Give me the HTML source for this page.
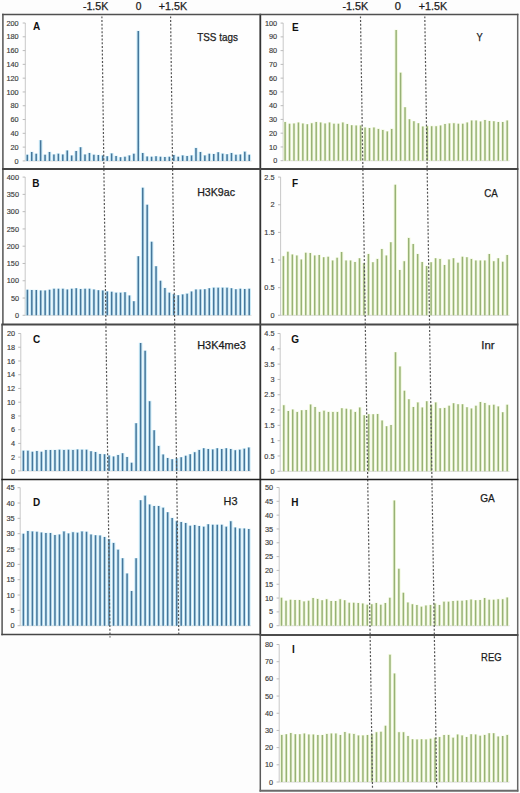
<!DOCTYPE html><html><head><meta charset="utf-8"><style>html,body{margin:0;padding:0;background:#fdfdfd;}svg{display:block;}text{font-family:"Liberation Sans", sans-serif;}</style></head><body>
<svg width="520" height="793" viewBox="0 0 520 793">
<rect x="0" y="0" width="520" height="793" fill="#fdfdfd"/>
<rect x="3" y="15" width="257" height="619" fill="#fefefe"/>
<rect x="260" y="15" width="257" height="775" fill="#fefefe"/>
<line x1="25.30" y1="23.00" x2="25.30" y2="160.90" stroke="#c2c2c2" stroke-width="0.9"/>
<line x1="25.30" y1="160.90" x2="251.47" y2="160.90" stroke="#d0d0d0" stroke-width="0.9"/>
<line x1="22.70" y1="160.90" x2="25.30" y2="160.90" stroke="#b4b4b4" stroke-width="0.9"/>
<text x="18.60" y="163.50" font-size="7.3" fill="#3c3c3c" stroke="#3c3c3c" stroke-width="0.15" text-anchor="end">0</text>
<line x1="22.70" y1="147.11" x2="25.30" y2="147.11" stroke="#b4b4b4" stroke-width="0.9"/>
<text x="18.60" y="149.71" font-size="7.3" fill="#3c3c3c" stroke="#3c3c3c" stroke-width="0.15" text-anchor="end">20</text>
<line x1="22.70" y1="133.32" x2="25.30" y2="133.32" stroke="#b4b4b4" stroke-width="0.9"/>
<text x="18.60" y="135.92" font-size="7.3" fill="#3c3c3c" stroke="#3c3c3c" stroke-width="0.15" text-anchor="end">40</text>
<line x1="22.70" y1="119.53" x2="25.30" y2="119.53" stroke="#b4b4b4" stroke-width="0.9"/>
<text x="18.60" y="122.13" font-size="7.3" fill="#3c3c3c" stroke="#3c3c3c" stroke-width="0.15" text-anchor="end">60</text>
<line x1="22.70" y1="105.74" x2="25.30" y2="105.74" stroke="#b4b4b4" stroke-width="0.9"/>
<text x="18.60" y="108.34" font-size="7.3" fill="#3c3c3c" stroke="#3c3c3c" stroke-width="0.15" text-anchor="end">80</text>
<line x1="22.70" y1="91.95" x2="25.30" y2="91.95" stroke="#b4b4b4" stroke-width="0.9"/>
<text x="18.60" y="94.55" font-size="7.3" fill="#3c3c3c" stroke="#3c3c3c" stroke-width="0.15" text-anchor="end">100</text>
<line x1="22.70" y1="78.16" x2="25.30" y2="78.16" stroke="#b4b4b4" stroke-width="0.9"/>
<text x="18.60" y="80.76" font-size="7.3" fill="#3c3c3c" stroke="#3c3c3c" stroke-width="0.15" text-anchor="end">120</text>
<line x1="22.70" y1="64.37" x2="25.30" y2="64.37" stroke="#b4b4b4" stroke-width="0.9"/>
<text x="18.60" y="66.97" font-size="7.3" fill="#3c3c3c" stroke="#3c3c3c" stroke-width="0.15" text-anchor="end">140</text>
<line x1="22.70" y1="50.58" x2="25.30" y2="50.58" stroke="#b4b4b4" stroke-width="0.9"/>
<text x="18.60" y="53.18" font-size="7.3" fill="#3c3c3c" stroke="#3c3c3c" stroke-width="0.15" text-anchor="end">160</text>
<line x1="22.70" y1="36.79" x2="25.30" y2="36.79" stroke="#b4b4b4" stroke-width="0.9"/>
<text x="18.60" y="39.39" font-size="7.3" fill="#3c3c3c" stroke="#3c3c3c" stroke-width="0.15" text-anchor="end">180</text>
<line x1="22.70" y1="23.00" x2="25.30" y2="23.00" stroke="#b4b4b4" stroke-width="0.9"/>
<text x="18.60" y="25.60" font-size="7.3" fill="#3c3c3c" stroke="#3c3c3c" stroke-width="0.15" text-anchor="end">200</text>
<path d="M25.50 154.46h3.60v6.44h-3.60zM29.94 151.64h3.60v9.26h-3.60zM34.38 153.57h3.60v7.33h-3.60zM38.82 140.05h3.60v20.85h-3.60zM43.26 154.46h3.60v6.44h-3.60zM47.70 151.64h3.60v9.26h-3.60zM52.13 154.26h3.60v6.64h-3.60zM56.57 153.36h3.60v7.54h-3.60zM61.01 154.26h3.60v6.64h-3.60zM65.45 150.26h3.60v10.64h-3.60zM69.89 155.29h3.60v5.61h-3.60zM74.33 150.81h3.60v10.09h-3.60zM78.77 147.02h3.60v13.88h-3.60zM83.21 154.26h3.60v6.64h-3.60zM87.65 152.74h3.60v8.16h-3.60zM92.09 154.46h3.60v6.44h-3.60zM96.52 154.81h3.60v6.09h-3.60zM100.96 155.29h3.60v5.61h-3.60zM105.40 155.98h3.60v4.92h-3.60zM109.84 153.08h3.60v7.82h-3.60zM114.28 155.64h3.60v5.26h-3.60zM118.72 157.01h3.60v3.89h-3.60zM123.16 156.53h3.60v4.37h-3.60zM127.60 155.08h3.60v5.82h-3.60zM132.04 153.57h3.60v7.33h-3.60zM136.47 30.63h3.60v130.27h-3.60zM140.91 152.74h3.60v8.16h-3.60zM145.35 156.19h3.60v4.71h-3.60zM149.79 156.53h3.60v4.37h-3.60zM154.23 155.98h3.60v4.92h-3.60zM158.67 156.46h3.60v4.44h-3.60zM163.11 156.81h3.60v4.09h-3.60zM167.55 156.46h3.60v4.44h-3.60zM171.99 154.81h3.60v6.09h-3.60zM176.43 156.46h3.60v4.44h-3.60zM180.87 155.08h3.60v5.82h-3.60zM185.30 155.64h3.60v5.26h-3.60zM189.74 155.08h3.60v5.82h-3.60zM194.18 147.78h3.60v13.12h-3.60zM198.62 151.64h3.60v9.26h-3.60zM203.06 155.08h3.60v5.82h-3.60zM207.50 153.57h3.60v7.33h-3.60zM211.94 153.70h3.60v7.19h-3.60zM216.38 151.98h3.60v8.92h-3.60zM220.82 153.36h3.60v7.54h-3.60zM225.25 153.91h3.60v6.99h-3.60zM229.69 152.74h3.60v8.16h-3.60zM234.13 154.46h3.60v6.44h-3.60zM238.57 154.26h3.60v6.64h-3.60zM243.01 151.36h3.60v9.54h-3.60zM247.45 154.46h3.60v6.44h-3.60z" fill="#c9eaf8"/>
<path d="M26.55 154.76h1.50v6.14h-1.50zM30.99 151.94h1.50v8.96h-1.50zM35.43 153.87h1.50v7.03h-1.50zM39.87 140.35h1.50v20.55h-1.50zM44.31 154.76h1.50v6.14h-1.50zM48.75 151.94h1.50v8.96h-1.50zM53.18 154.56h1.50v6.34h-1.50zM57.62 153.66h1.50v7.24h-1.50zM62.06 154.56h1.50v6.34h-1.50zM66.50 150.56h1.50v10.34h-1.50zM70.94 155.59h1.50v5.31h-1.50zM75.38 151.11h1.50v9.79h-1.50zM79.82 147.32h1.50v13.58h-1.50zM84.26 154.56h1.50v6.34h-1.50zM88.70 153.04h1.50v7.86h-1.50zM93.14 154.76h1.50v6.14h-1.50zM97.57 155.11h1.50v5.79h-1.50zM102.01 155.59h1.50v5.31h-1.50zM106.45 156.28h1.50v4.62h-1.50zM110.89 153.38h1.50v7.52h-1.50zM115.33 155.94h1.50v4.96h-1.50zM119.77 157.31h1.50v3.59h-1.50zM124.21 156.83h1.50v4.07h-1.50zM128.65 155.38h1.50v5.52h-1.50zM133.09 153.87h1.50v7.03h-1.50zM137.53 30.93h1.50v129.97h-1.50zM141.96 153.04h1.50v7.86h-1.50zM146.40 156.49h1.50v4.41h-1.50zM150.84 156.83h1.50v4.07h-1.50zM155.28 156.28h1.50v4.62h-1.50zM159.72 156.76h1.50v4.14h-1.50zM164.16 157.11h1.50v3.79h-1.50zM168.60 156.76h1.50v4.14h-1.50zM173.04 155.11h1.50v5.79h-1.50zM177.48 156.76h1.50v4.14h-1.50zM181.92 155.38h1.50v5.52h-1.50zM186.35 155.94h1.50v4.96h-1.50zM190.79 155.38h1.50v5.52h-1.50zM195.23 148.08h1.50v12.82h-1.50zM199.67 151.94h1.50v8.96h-1.50zM204.11 155.38h1.50v5.52h-1.50zM208.55 153.87h1.50v7.03h-1.50zM212.99 154.00h1.50v6.89h-1.50zM217.43 152.28h1.50v8.62h-1.50zM221.87 153.66h1.50v7.24h-1.50zM226.31 154.21h1.50v6.69h-1.50zM230.74 153.04h1.50v7.86h-1.50zM235.18 154.76h1.50v6.14h-1.50zM239.62 154.56h1.50v6.34h-1.50zM244.06 151.66h1.50v9.24h-1.50zM248.50 154.76h1.50v6.14h-1.50z" fill="#46769a"/>
<text x="33.00" y="30.30" font-size="10" font-weight="bold" fill="#111">A</text>
<text x="197.20" y="40.60" font-size="10.6" fill="#1c1c1c" stroke="#1c1c1c" stroke-width="0.25" textLength="40.70" lengthAdjust="spacingAndGlyphs">TSS tags</text>
<line x1="25.20" y1="177.10" x2="25.20" y2="315.30" stroke="#c2c2c2" stroke-width="0.9"/>
<line x1="25.20" y1="315.30" x2="251.42" y2="315.30" stroke="#d0d0d0" stroke-width="0.9"/>
<line x1="22.60" y1="315.30" x2="25.20" y2="315.30" stroke="#b4b4b4" stroke-width="0.9"/>
<text x="19.00" y="317.90" font-size="7.3" fill="#3c3c3c" stroke="#3c3c3c" stroke-width="0.15" text-anchor="end">0</text>
<line x1="22.60" y1="298.03" x2="25.20" y2="298.03" stroke="#b4b4b4" stroke-width="0.9"/>
<text x="19.00" y="300.63" font-size="7.3" fill="#3c3c3c" stroke="#3c3c3c" stroke-width="0.15" text-anchor="end">50</text>
<line x1="22.60" y1="280.75" x2="25.20" y2="280.75" stroke="#b4b4b4" stroke-width="0.9"/>
<text x="19.00" y="283.35" font-size="7.3" fill="#3c3c3c" stroke="#3c3c3c" stroke-width="0.15" text-anchor="end">100</text>
<line x1="22.60" y1="263.48" x2="25.20" y2="263.48" stroke="#b4b4b4" stroke-width="0.9"/>
<text x="19.00" y="266.08" font-size="7.3" fill="#3c3c3c" stroke="#3c3c3c" stroke-width="0.15" text-anchor="end">150</text>
<line x1="22.60" y1="246.20" x2="25.20" y2="246.20" stroke="#b4b4b4" stroke-width="0.9"/>
<text x="19.00" y="248.80" font-size="7.3" fill="#3c3c3c" stroke="#3c3c3c" stroke-width="0.15" text-anchor="end">200</text>
<line x1="22.60" y1="228.93" x2="25.20" y2="228.93" stroke="#b4b4b4" stroke-width="0.9"/>
<text x="19.00" y="231.53" font-size="7.3" fill="#3c3c3c" stroke="#3c3c3c" stroke-width="0.15" text-anchor="end">250</text>
<line x1="22.60" y1="211.65" x2="25.20" y2="211.65" stroke="#b4b4b4" stroke-width="0.9"/>
<text x="19.00" y="214.25" font-size="7.3" fill="#3c3c3c" stroke="#3c3c3c" stroke-width="0.15" text-anchor="end">300</text>
<line x1="22.60" y1="194.38" x2="25.20" y2="194.38" stroke="#b4b4b4" stroke-width="0.9"/>
<text x="19.00" y="196.97" font-size="7.3" fill="#3c3c3c" stroke="#3c3c3c" stroke-width="0.15" text-anchor="end">350</text>
<line x1="22.60" y1="177.10" x2="25.20" y2="177.10" stroke="#b4b4b4" stroke-width="0.9"/>
<text x="19.00" y="179.70" font-size="7.3" fill="#3c3c3c" stroke="#3c3c3c" stroke-width="0.15" text-anchor="end">400</text>
<path d="M25.60 289.50h3.60v25.80h-3.60zM30.04 289.64h3.60v25.66h-3.60zM34.47 289.78h3.60v25.52h-3.60zM38.91 290.26h3.60v25.04h-3.60zM43.34 290.26h3.60v25.04h-3.60zM47.78 289.50h3.60v25.80h-3.60zM52.22 288.40h3.60v26.90h-3.60zM56.65 288.40h3.60v26.90h-3.60zM61.09 288.40h3.60v26.90h-3.60zM65.52 289.19h3.60v26.11h-3.60zM69.96 288.40h3.60v26.90h-3.60zM74.40 287.95h3.60v27.35h-3.60zM78.83 288.74h3.60v26.56h-3.60zM83.27 288.40h3.60v26.90h-3.60zM87.70 288.40h3.60v26.90h-3.60zM92.14 289.19h3.60v26.11h-3.60zM96.58 289.95h3.60v25.35h-3.60zM101.01 290.30h3.60v25.00h-3.60zM105.45 291.16h3.60v24.14h-3.60zM109.88 291.51h3.60v23.79h-3.60zM114.32 292.37h3.60v22.93h-3.60zM118.76 292.37h3.60v22.93h-3.60zM123.19 291.96h3.60v23.34h-3.60zM127.63 295.31h3.60v19.99h-3.60zM132.06 301.01h3.60v14.29h-3.60zM136.50 255.92h3.60v59.38h-3.60zM140.94 187.51h3.60v127.79h-3.60zM145.37 204.44h3.60v110.86h-3.60zM149.81 241.41h3.60v73.89h-3.60zM154.24 265.94h3.60v49.36h-3.60zM158.68 280.45h3.60v34.85h-3.60zM163.12 287.71h3.60v27.59h-3.60zM167.55 292.37h3.60v22.93h-3.60zM171.99 293.92h3.60v21.38h-3.60zM176.42 294.96h3.60v20.34h-3.60zM180.86 294.10h3.60v21.20h-3.60zM185.30 293.34h3.60v21.96h-3.60zM189.73 291.16h3.60v24.14h-3.60zM194.17 289.19h3.60v26.11h-3.60zM198.60 289.19h3.60v26.11h-3.60zM203.04 288.88h3.60v26.42h-3.60zM207.48 287.95h3.60v27.35h-3.60zM211.91 287.36h3.60v27.94h-3.60zM216.35 287.36h3.60v27.94h-3.60zM220.78 287.36h3.60v27.94h-3.60zM225.22 287.36h3.60v27.94h-3.60zM229.66 287.95h3.60v27.35h-3.60zM234.09 288.88h3.60v26.42h-3.60zM238.53 288.40h3.60v26.90h-3.60zM242.96 288.74h3.60v26.56h-3.60zM247.40 288.40h3.60v26.90h-3.60z" fill="#c9eaf8"/>
<path d="M26.65 289.80h1.50v25.50h-1.50zM31.09 289.94h1.50v25.36h-1.50zM35.52 290.08h1.50v25.22h-1.50zM39.96 290.56h1.50v24.74h-1.50zM44.39 290.56h1.50v24.74h-1.50zM48.83 289.80h1.50v25.50h-1.50zM53.27 288.70h1.50v26.60h-1.50zM57.70 288.70h1.50v26.60h-1.50zM62.14 288.70h1.50v26.60h-1.50zM66.57 289.49h1.50v25.81h-1.50zM71.01 288.70h1.50v26.60h-1.50zM75.45 288.25h1.50v27.05h-1.50zM79.88 289.04h1.50v26.26h-1.50zM84.32 288.70h1.50v26.60h-1.50zM88.75 288.70h1.50v26.60h-1.50zM93.19 289.49h1.50v25.81h-1.50zM97.63 290.25h1.50v25.05h-1.50zM102.06 290.60h1.50v24.70h-1.50zM106.50 291.46h1.50v23.84h-1.50zM110.93 291.81h1.50v23.49h-1.50zM115.37 292.67h1.50v22.63h-1.50zM119.81 292.67h1.50v22.63h-1.50zM124.24 292.26h1.50v23.04h-1.50zM128.68 295.61h1.50v19.69h-1.50zM133.11 301.31h1.50v13.99h-1.50zM137.55 256.22h1.50v59.08h-1.50zM141.99 187.81h1.50v127.49h-1.50zM146.42 204.74h1.50v110.56h-1.50zM150.86 241.71h1.50v73.59h-1.50zM155.29 266.24h1.50v49.06h-1.50zM159.73 280.75h1.50v34.55h-1.50zM164.17 288.01h1.50v27.29h-1.50zM168.60 292.67h1.50v22.63h-1.50zM173.04 294.22h1.50v21.08h-1.50zM177.47 295.26h1.50v20.04h-1.50zM181.91 294.40h1.50v20.90h-1.50zM186.35 293.64h1.50v21.66h-1.50zM190.78 291.46h1.50v23.84h-1.50zM195.22 289.49h1.50v25.81h-1.50zM199.65 289.49h1.50v25.81h-1.50zM204.09 289.18h1.50v26.12h-1.50zM208.53 288.25h1.50v27.05h-1.50zM212.96 287.66h1.50v27.64h-1.50zM217.40 287.66h1.50v27.64h-1.50zM221.83 287.66h1.50v27.64h-1.50zM226.27 287.66h1.50v27.64h-1.50zM230.71 288.25h1.50v27.05h-1.50zM235.14 289.18h1.50v26.12h-1.50zM239.58 288.70h1.50v26.60h-1.50zM244.01 289.04h1.50v26.26h-1.50zM248.45 288.70h1.50v26.60h-1.50z" fill="#46769a"/>
<text x="32.30" y="186.80" font-size="10" font-weight="bold" fill="#111">B</text>
<text x="197.20" y="196.40" font-size="10.6" fill="#1c1c1c" stroke="#1c1c1c" stroke-width="0.25" textLength="37.80" lengthAdjust="spacingAndGlyphs">H3K9ac</text>
<line x1="20.80" y1="333.50" x2="20.80" y2="470.90" stroke="#c2c2c2" stroke-width="0.9"/>
<line x1="20.80" y1="470.90" x2="251.05" y2="470.90" stroke="#d0d0d0" stroke-width="0.9"/>
<line x1="18.20" y1="470.90" x2="20.80" y2="470.90" stroke="#b4b4b4" stroke-width="0.9"/>
<text x="15.10" y="473.50" font-size="7.3" fill="#3c3c3c" stroke="#3c3c3c" stroke-width="0.15" text-anchor="end">0</text>
<line x1="18.20" y1="457.16" x2="20.80" y2="457.16" stroke="#b4b4b4" stroke-width="0.9"/>
<text x="15.10" y="459.76" font-size="7.3" fill="#3c3c3c" stroke="#3c3c3c" stroke-width="0.15" text-anchor="end">2</text>
<line x1="18.20" y1="443.42" x2="20.80" y2="443.42" stroke="#b4b4b4" stroke-width="0.9"/>
<text x="15.10" y="446.02" font-size="7.3" fill="#3c3c3c" stroke="#3c3c3c" stroke-width="0.15" text-anchor="end">4</text>
<line x1="18.20" y1="429.68" x2="20.80" y2="429.68" stroke="#b4b4b4" stroke-width="0.9"/>
<text x="15.10" y="432.28" font-size="7.3" fill="#3c3c3c" stroke="#3c3c3c" stroke-width="0.15" text-anchor="end">6</text>
<line x1="18.20" y1="415.94" x2="20.80" y2="415.94" stroke="#b4b4b4" stroke-width="0.9"/>
<text x="15.10" y="418.54" font-size="7.3" fill="#3c3c3c" stroke="#3c3c3c" stroke-width="0.15" text-anchor="end">8</text>
<line x1="18.20" y1="402.20" x2="20.80" y2="402.20" stroke="#b4b4b4" stroke-width="0.9"/>
<text x="15.10" y="404.80" font-size="7.3" fill="#3c3c3c" stroke="#3c3c3c" stroke-width="0.15" text-anchor="end">10</text>
<line x1="18.20" y1="388.46" x2="20.80" y2="388.46" stroke="#b4b4b4" stroke-width="0.9"/>
<text x="15.10" y="391.06" font-size="7.3" fill="#3c3c3c" stroke="#3c3c3c" stroke-width="0.15" text-anchor="end">12</text>
<line x1="18.20" y1="374.72" x2="20.80" y2="374.72" stroke="#b4b4b4" stroke-width="0.9"/>
<text x="15.10" y="377.32" font-size="7.3" fill="#3c3c3c" stroke="#3c3c3c" stroke-width="0.15" text-anchor="end">14</text>
<line x1="18.20" y1="360.98" x2="20.80" y2="360.98" stroke="#b4b4b4" stroke-width="0.9"/>
<text x="15.10" y="363.58" font-size="7.3" fill="#3c3c3c" stroke="#3c3c3c" stroke-width="0.15" text-anchor="end">16</text>
<line x1="18.20" y1="347.24" x2="20.80" y2="347.24" stroke="#b4b4b4" stroke-width="0.9"/>
<text x="15.10" y="349.84" font-size="7.3" fill="#3c3c3c" stroke="#3c3c3c" stroke-width="0.15" text-anchor="end">18</text>
<line x1="18.20" y1="333.50" x2="20.80" y2="333.50" stroke="#b4b4b4" stroke-width="0.9"/>
<text x="15.10" y="336.10" font-size="7.3" fill="#3c3c3c" stroke="#3c3c3c" stroke-width="0.15" text-anchor="end">20</text>
<path d="M21.60 450.33h3.60v20.57h-3.60zM26.11 450.33h3.60v20.57h-3.60zM30.62 451.57h3.60v19.33h-3.60zM35.12 450.68h3.60v20.22h-3.60zM39.63 451.57h3.60v19.33h-3.60zM44.14 449.72h3.60v21.18h-3.60zM48.65 449.72h3.60v21.18h-3.60zM53.16 449.72h3.60v21.18h-3.60zM57.66 449.37h3.60v21.53h-3.60zM62.17 449.58h3.60v21.32h-3.60zM66.68 449.37h3.60v21.53h-3.60zM71.19 449.58h3.60v21.32h-3.60zM75.70 449.10h3.60v21.80h-3.60zM80.20 449.37h3.60v21.53h-3.60zM84.71 449.37h3.60v21.53h-3.60zM89.22 450.95h3.60v19.95h-3.60zM93.73 451.71h3.60v19.19h-3.60zM98.24 453.63h3.60v17.27h-3.60zM102.74 453.91h3.60v16.99h-3.60zM107.25 455.21h3.60v15.69h-3.60zM111.76 456.17h3.60v14.73h-3.60zM116.27 454.66h3.60v16.24h-3.60zM120.78 452.94h3.60v17.96h-3.60zM125.28 456.79h3.60v14.11h-3.60zM129.79 462.56h3.60v8.34h-3.60zM134.30 422.92h3.60v47.98h-3.60zM138.81 342.82h3.60v128.08h-3.60zM143.32 350.38h3.60v120.52h-3.60zM147.82 400.87h3.60v70.03h-3.60zM152.33 430.07h3.60v40.83h-3.60zM156.84 445.59h3.60v25.31h-3.60zM161.35 454.25h3.60v16.65h-3.60zM165.86 457.75h3.60v13.15h-3.60zM170.36 459.06h3.60v11.84h-3.60zM174.87 458.10h3.60v12.80h-3.60zM179.38 457.07h3.60v13.83h-3.60zM183.89 455.55h3.60v15.35h-3.60zM188.40 453.97h3.60v16.93h-3.60zM192.90 451.84h3.60v19.06h-3.60zM197.41 449.58h3.60v21.32h-3.60zM201.92 448.00h3.60v22.90h-3.60zM206.43 448.75h3.60v22.15h-3.60zM210.94 449.10h3.60v21.80h-3.60zM215.44 448.00h3.60v22.90h-3.60zM219.95 448.75h3.60v22.15h-3.60zM224.46 448.00h3.60v22.90h-3.60zM228.97 448.75h3.60v22.15h-3.60zM233.48 449.85h3.60v21.05h-3.60zM237.98 449.37h3.60v21.53h-3.60zM242.49 448.34h3.60v22.56h-3.60zM247.00 447.24h3.60v23.66h-3.60z" fill="#c9eaf8"/>
<path d="M22.65 450.63h1.50v20.27h-1.50zM27.16 450.63h1.50v20.27h-1.50zM31.67 451.87h1.50v19.03h-1.50zM36.17 450.98h1.50v19.92h-1.50zM40.68 451.87h1.50v19.03h-1.50zM45.19 450.02h1.50v20.88h-1.50zM49.70 450.02h1.50v20.88h-1.50zM54.21 450.02h1.50v20.88h-1.50zM58.71 449.67h1.50v21.23h-1.50zM63.22 449.88h1.50v21.02h-1.50zM67.73 449.67h1.50v21.23h-1.50zM72.24 449.88h1.50v21.02h-1.50zM76.75 449.40h1.50v21.50h-1.50zM81.25 449.67h1.50v21.23h-1.50zM85.76 449.67h1.50v21.23h-1.50zM90.27 451.25h1.50v19.65h-1.50zM94.78 452.01h1.50v18.89h-1.50zM99.29 453.93h1.50v16.97h-1.50zM103.79 454.21h1.50v16.69h-1.50zM108.30 455.51h1.50v15.39h-1.50zM112.81 456.47h1.50v14.43h-1.50zM117.32 454.96h1.50v15.94h-1.50zM121.83 453.24h1.50v17.66h-1.50zM126.33 457.09h1.50v13.81h-1.50zM130.84 462.86h1.50v8.04h-1.50zM135.35 423.22h1.50v47.68h-1.50zM139.86 343.12h1.50v127.78h-1.50zM144.37 350.68h1.50v120.22h-1.50zM148.87 401.17h1.50v69.73h-1.50zM153.38 430.37h1.50v40.53h-1.50zM157.89 445.89h1.50v25.01h-1.50zM162.40 454.55h1.50v16.35h-1.50zM166.91 458.05h1.50v12.85h-1.50zM171.41 459.36h1.50v11.54h-1.50zM175.92 458.40h1.50v12.50h-1.50zM180.43 457.37h1.50v13.53h-1.50zM184.94 455.85h1.50v15.05h-1.50zM189.45 454.27h1.50v16.63h-1.50zM193.95 452.14h1.50v18.76h-1.50zM198.46 449.88h1.50v21.02h-1.50zM202.97 448.30h1.50v22.60h-1.50zM207.48 449.05h1.50v21.85h-1.50zM211.99 449.40h1.50v21.50h-1.50zM216.49 448.30h1.50v22.60h-1.50zM221.00 449.05h1.50v21.85h-1.50zM225.51 448.30h1.50v22.60h-1.50zM230.02 449.05h1.50v21.85h-1.50zM234.53 450.15h1.50v20.75h-1.50zM239.03 449.67h1.50v21.23h-1.50zM243.54 448.64h1.50v22.26h-1.50zM248.05 447.54h1.50v23.36h-1.50z" fill="#46769a"/>
<text x="32.90" y="342.60" font-size="10" font-weight="bold" fill="#111">C</text>
<text x="197.20" y="349.10" font-size="10.6" fill="#1c1c1c" stroke="#1c1c1c" stroke-width="0.25" textLength="48.70" lengthAdjust="spacingAndGlyphs">H3K4me3</text>
<line x1="20.20" y1="487.70" x2="20.20" y2="625.70" stroke="#c2c2c2" stroke-width="0.9"/>
<line x1="20.20" y1="625.70" x2="251.05" y2="625.70" stroke="#d0d0d0" stroke-width="0.9"/>
<line x1="17.60" y1="625.70" x2="20.20" y2="625.70" stroke="#b4b4b4" stroke-width="0.9"/>
<text x="14.50" y="628.30" font-size="7.3" fill="#3c3c3c" stroke="#3c3c3c" stroke-width="0.15" text-anchor="end">0</text>
<line x1="17.60" y1="610.37" x2="20.20" y2="610.37" stroke="#b4b4b4" stroke-width="0.9"/>
<text x="14.50" y="612.97" font-size="7.3" fill="#3c3c3c" stroke="#3c3c3c" stroke-width="0.15" text-anchor="end">5</text>
<line x1="17.60" y1="595.03" x2="20.20" y2="595.03" stroke="#b4b4b4" stroke-width="0.9"/>
<text x="14.50" y="597.63" font-size="7.3" fill="#3c3c3c" stroke="#3c3c3c" stroke-width="0.15" text-anchor="end">10</text>
<line x1="17.60" y1="579.70" x2="20.20" y2="579.70" stroke="#b4b4b4" stroke-width="0.9"/>
<text x="14.50" y="582.30" font-size="7.3" fill="#3c3c3c" stroke="#3c3c3c" stroke-width="0.15" text-anchor="end">15</text>
<line x1="17.60" y1="564.37" x2="20.20" y2="564.37" stroke="#b4b4b4" stroke-width="0.9"/>
<text x="14.50" y="566.97" font-size="7.3" fill="#3c3c3c" stroke="#3c3c3c" stroke-width="0.15" text-anchor="end">20</text>
<line x1="17.60" y1="549.03" x2="20.20" y2="549.03" stroke="#b4b4b4" stroke-width="0.9"/>
<text x="14.50" y="551.63" font-size="7.3" fill="#3c3c3c" stroke="#3c3c3c" stroke-width="0.15" text-anchor="end">25</text>
<line x1="17.60" y1="533.70" x2="20.20" y2="533.70" stroke="#b4b4b4" stroke-width="0.9"/>
<text x="14.50" y="536.30" font-size="7.3" fill="#3c3c3c" stroke="#3c3c3c" stroke-width="0.15" text-anchor="end">30</text>
<line x1="17.60" y1="518.37" x2="20.20" y2="518.37" stroke="#b4b4b4" stroke-width="0.9"/>
<text x="14.50" y="520.97" font-size="7.3" fill="#3c3c3c" stroke="#3c3c3c" stroke-width="0.15" text-anchor="end">35</text>
<line x1="17.60" y1="503.03" x2="20.20" y2="503.03" stroke="#b4b4b4" stroke-width="0.9"/>
<text x="14.50" y="505.63" font-size="7.3" fill="#3c3c3c" stroke="#3c3c3c" stroke-width="0.15" text-anchor="end">40</text>
<line x1="17.60" y1="487.70" x2="20.20" y2="487.70" stroke="#b4b4b4" stroke-width="0.9"/>
<text x="14.50" y="490.30" font-size="7.3" fill="#3c3c3c" stroke="#3c3c3c" stroke-width="0.15" text-anchor="end">45</text>
<path d="M21.60 533.40h3.60v92.30h-3.60zM26.11 530.79h3.60v94.91h-3.60zM30.62 531.10h3.60v94.60h-3.60zM35.12 531.41h3.60v94.29h-3.60zM39.63 532.17h3.60v93.53h-3.60zM44.14 532.63h3.60v93.07h-3.60zM48.65 532.63h3.60v93.07h-3.60zM53.16 534.63h3.60v91.07h-3.60zM57.66 534.17h3.60v91.53h-3.60zM62.17 531.10h3.60v94.60h-3.60zM66.68 533.09h3.60v92.61h-3.60zM71.19 531.87h3.60v93.83h-3.60zM75.70 532.33h3.60v93.37h-3.60zM80.20 531.10h3.60v94.60h-3.60zM84.71 531.56h3.60v94.14h-3.60zM89.22 534.32h3.60v91.38h-3.60zM93.73 534.93h3.60v90.77h-3.60zM98.24 535.24h3.60v90.46h-3.60zM102.74 536.77h3.60v88.93h-3.60zM107.25 538.92h3.60v86.78h-3.60zM111.76 542.60h3.60v83.10h-3.60zM116.27 549.35h3.60v76.35h-3.60zM120.78 557.93h3.60v67.77h-3.60zM125.28 573.27h3.60v52.43h-3.60zM129.79 590.75h3.60v34.95h-3.60zM134.30 557.93h3.60v67.77h-3.60zM138.81 499.97h3.60v125.73h-3.60zM143.32 495.37h3.60v130.33h-3.60zM147.82 504.27h3.60v121.43h-3.60zM152.33 505.80h3.60v119.90h-3.60zM156.84 505.80h3.60v119.90h-3.60zM161.35 507.33h3.60v118.37h-3.60zM165.86 511.93h3.60v113.77h-3.60zM170.36 517.76h3.60v107.94h-3.60zM174.87 520.83h3.60v104.87h-3.60zM179.38 521.75h3.60v103.95h-3.60zM183.89 522.67h3.60v103.03h-3.60zM188.40 525.43h3.60v100.27h-3.60zM192.90 524.81h3.60v100.89h-3.60zM197.41 525.73h3.60v99.97h-3.60zM201.92 526.35h3.60v99.35h-3.60zM206.43 523.89h3.60v101.81h-3.60zM210.94 524.51h3.60v101.19h-3.60zM215.44 524.51h3.60v101.19h-3.60zM219.95 524.51h3.60v101.19h-3.60zM224.46 526.35h3.60v99.35h-3.60zM228.97 520.83h3.60v104.87h-3.60zM233.48 527.27h3.60v98.43h-3.60zM237.98 528.19h3.60v97.51h-3.60zM242.49 528.19h3.60v97.51h-3.60zM247.00 528.80h3.60v96.90h-3.60z" fill="#c9eaf8"/>
<path d="M22.65 533.70h1.50v92.00h-1.50zM27.16 531.09h1.50v94.61h-1.50zM31.67 531.40h1.50v94.30h-1.50zM36.17 531.71h1.50v93.99h-1.50zM40.68 532.47h1.50v93.23h-1.50zM45.19 532.93h1.50v92.77h-1.50zM49.70 532.93h1.50v92.77h-1.50zM54.21 534.93h1.50v90.77h-1.50zM58.71 534.47h1.50v91.23h-1.50zM63.22 531.40h1.50v94.30h-1.50zM67.73 533.39h1.50v92.31h-1.50zM72.24 532.17h1.50v93.53h-1.50zM76.75 532.63h1.50v93.07h-1.50zM81.25 531.40h1.50v94.30h-1.50zM85.76 531.86h1.50v93.84h-1.50zM90.27 534.62h1.50v91.08h-1.50zM94.78 535.23h1.50v90.47h-1.50zM99.29 535.54h1.50v90.16h-1.50zM103.79 537.07h1.50v88.63h-1.50zM108.30 539.22h1.50v86.48h-1.50zM112.81 542.90h1.50v82.80h-1.50zM117.32 549.65h1.50v76.05h-1.50zM121.83 558.23h1.50v67.47h-1.50zM126.33 573.57h1.50v52.13h-1.50zM130.84 591.05h1.50v34.65h-1.50zM135.35 558.23h1.50v67.47h-1.50zM139.86 500.27h1.50v125.43h-1.50zM144.37 495.67h1.50v130.03h-1.50zM148.87 504.57h1.50v121.13h-1.50zM153.38 506.10h1.50v119.60h-1.50zM157.89 506.10h1.50v119.60h-1.50zM162.40 507.63h1.50v118.07h-1.50zM166.91 512.23h1.50v113.47h-1.50zM171.41 518.06h1.50v107.64h-1.50zM175.92 521.13h1.50v104.57h-1.50zM180.43 522.05h1.50v103.65h-1.50zM184.94 522.97h1.50v102.73h-1.50zM189.45 525.73h1.50v99.97h-1.50zM193.95 525.11h1.50v100.59h-1.50zM198.46 526.03h1.50v99.67h-1.50zM202.97 526.65h1.50v99.05h-1.50zM207.48 524.19h1.50v101.51h-1.50zM211.99 524.81h1.50v100.89h-1.50zM216.49 524.81h1.50v100.89h-1.50zM221.00 524.81h1.50v100.89h-1.50zM225.51 526.65h1.50v99.05h-1.50zM230.02 521.13h1.50v104.57h-1.50zM234.53 527.57h1.50v98.13h-1.50zM239.03 528.49h1.50v97.21h-1.50zM243.54 528.49h1.50v97.21h-1.50zM248.05 529.10h1.50v96.60h-1.50z" fill="#46769a"/>
<text x="32.90" y="505.90" font-size="10" font-weight="bold" fill="#111">D</text>
<text x="223.60" y="505.00" font-size="10.6" fill="#1c1c1c" stroke="#1c1c1c" stroke-width="0.25" textLength="13.90" lengthAdjust="spacingAndGlyphs">H3</text>
<line x1="283.20" y1="23.10" x2="283.20" y2="160.70" stroke="#c2c2c2" stroke-width="0.9"/>
<line x1="283.20" y1="160.70" x2="509.42" y2="160.70" stroke="#d0d0d0" stroke-width="0.9"/>
<line x1="280.60" y1="160.70" x2="283.20" y2="160.70" stroke="#b4b4b4" stroke-width="0.9"/>
<text x="277.20" y="163.30" font-size="7.3" fill="#3c3c3c" stroke="#3c3c3c" stroke-width="0.15" text-anchor="end">0</text>
<line x1="280.60" y1="146.94" x2="283.20" y2="146.94" stroke="#b4b4b4" stroke-width="0.9"/>
<text x="277.20" y="149.54" font-size="7.3" fill="#3c3c3c" stroke="#3c3c3c" stroke-width="0.15" text-anchor="end">10</text>
<line x1="280.60" y1="133.18" x2="283.20" y2="133.18" stroke="#b4b4b4" stroke-width="0.9"/>
<text x="277.20" y="135.78" font-size="7.3" fill="#3c3c3c" stroke="#3c3c3c" stroke-width="0.15" text-anchor="end">20</text>
<line x1="280.60" y1="119.42" x2="283.20" y2="119.42" stroke="#b4b4b4" stroke-width="0.9"/>
<text x="277.20" y="122.02" font-size="7.3" fill="#3c3c3c" stroke="#3c3c3c" stroke-width="0.15" text-anchor="end">30</text>
<line x1="280.60" y1="105.66" x2="283.20" y2="105.66" stroke="#b4b4b4" stroke-width="0.9"/>
<text x="277.20" y="108.26" font-size="7.3" fill="#3c3c3c" stroke="#3c3c3c" stroke-width="0.15" text-anchor="end">40</text>
<line x1="280.60" y1="91.90" x2="283.20" y2="91.90" stroke="#b4b4b4" stroke-width="0.9"/>
<text x="277.20" y="94.50" font-size="7.3" fill="#3c3c3c" stroke="#3c3c3c" stroke-width="0.15" text-anchor="end">50</text>
<line x1="280.60" y1="78.14" x2="283.20" y2="78.14" stroke="#b4b4b4" stroke-width="0.9"/>
<text x="277.20" y="80.74" font-size="7.3" fill="#3c3c3c" stroke="#3c3c3c" stroke-width="0.15" text-anchor="end">60</text>
<line x1="280.60" y1="64.38" x2="283.20" y2="64.38" stroke="#b4b4b4" stroke-width="0.9"/>
<text x="277.20" y="66.98" font-size="7.3" fill="#3c3c3c" stroke="#3c3c3c" stroke-width="0.15" text-anchor="end">70</text>
<line x1="280.60" y1="50.62" x2="283.20" y2="50.62" stroke="#b4b4b4" stroke-width="0.9"/>
<text x="277.20" y="53.22" font-size="7.3" fill="#3c3c3c" stroke="#3c3c3c" stroke-width="0.15" text-anchor="end">80</text>
<line x1="280.60" y1="36.86" x2="283.20" y2="36.86" stroke="#b4b4b4" stroke-width="0.9"/>
<text x="277.20" y="39.46" font-size="7.3" fill="#3c3c3c" stroke="#3c3c3c" stroke-width="0.15" text-anchor="end">90</text>
<line x1="280.60" y1="23.10" x2="283.20" y2="23.10" stroke="#b4b4b4" stroke-width="0.9"/>
<text x="277.20" y="25.70" font-size="7.3" fill="#3c3c3c" stroke="#3c3c3c" stroke-width="0.15" text-anchor="end">100</text>
<path d="M283.45 121.73h3.30v38.97h-3.30zM287.89 123.52h3.30v37.18h-3.30zM292.33 123.25h3.30v37.45h-3.30zM296.78 122.28h3.30v38.42h-3.30zM301.22 123.25h3.30v37.45h-3.30zM305.66 124.07h3.30v36.63h-3.30zM310.10 122.84h3.30v37.86h-3.30zM314.54 121.73h3.30v38.97h-3.30zM318.99 122.28h3.30v38.42h-3.30zM323.43 123.25h3.30v37.45h-3.30zM327.87 122.28h3.30v38.42h-3.30zM332.31 123.52h3.30v37.18h-3.30zM336.75 123.52h3.30v37.18h-3.30zM341.20 122.28h3.30v38.42h-3.30zM345.64 123.80h3.30v36.90h-3.30zM350.08 125.04h3.30v35.66h-3.30zM354.52 125.17h3.30v35.53h-3.30zM358.96 125.31h3.30v35.39h-3.30zM363.41 127.24h3.30v33.46h-3.30zM367.85 127.79h3.30v32.91h-3.30zM372.29 127.24h3.30v33.46h-3.30zM376.73 128.61h3.30v32.09h-3.30zM381.17 129.58h3.30v31.12h-3.30zM385.62 131.09h3.30v29.61h-3.30zM390.06 128.61h3.30v32.09h-3.30zM394.50 29.68h3.30v131.02h-3.30zM398.94 72.34h3.30v88.36h-3.30zM403.38 107.01h3.30v53.69h-3.30zM407.83 118.98h3.30v41.72h-3.30zM412.27 121.05h3.30v39.65h-3.30zM416.71 122.97h3.30v37.73h-3.30zM421.15 126.28h3.30v34.42h-3.30zM425.59 125.86h3.30v34.84h-3.30zM430.04 125.86h3.30v34.84h-3.30zM434.48 125.86h3.30v34.84h-3.30zM438.92 125.31h3.30v35.39h-3.30zM443.36 123.80h3.30v36.90h-3.30zM447.80 123.11h3.30v37.59h-3.30zM452.25 122.84h3.30v37.86h-3.30zM456.69 123.52h3.30v37.18h-3.30zM461.13 123.52h3.30v37.18h-3.30zM465.57 122.28h3.30v38.42h-3.30zM470.01 120.22h3.30v40.48h-3.30zM474.46 120.22h3.30v40.48h-3.30zM478.90 121.18h3.30v39.52h-3.30zM483.34 119.81h3.30v40.89h-3.30zM487.78 120.77h3.30v39.93h-3.30zM492.22 120.91h3.30v39.79h-3.30zM496.67 121.73h3.30v38.97h-3.30zM501.11 121.73h3.30v38.97h-3.30zM505.55 120.22h3.30v40.48h-3.30z" fill="#eef7d6"/>
<path d="M284.38 122.03h1.45v38.67h-1.45zM288.82 123.82h1.45v36.88h-1.45zM293.26 123.55h1.45v37.15h-1.45zM297.70 122.58h1.45v38.12h-1.45zM302.14 123.55h1.45v37.15h-1.45zM306.58 124.37h1.45v36.33h-1.45zM311.03 123.14h1.45v37.56h-1.45zM315.47 122.03h1.45v38.67h-1.45zM319.91 122.58h1.45v38.12h-1.45zM324.35 123.55h1.45v37.15h-1.45zM328.80 122.58h1.45v38.12h-1.45zM333.24 123.82h1.45v36.88h-1.45zM337.68 123.82h1.45v36.88h-1.45zM342.12 122.58h1.45v38.12h-1.45zM346.56 124.10h1.45v36.60h-1.45zM351.00 125.34h1.45v35.36h-1.45zM355.45 125.47h1.45v35.23h-1.45zM359.89 125.61h1.45v35.09h-1.45zM364.33 127.54h1.45v33.16h-1.45zM368.77 128.09h1.45v32.61h-1.45zM373.21 127.54h1.45v33.16h-1.45zM377.66 128.91h1.45v31.79h-1.45zM382.10 129.88h1.45v30.82h-1.45zM386.54 131.39h1.45v29.31h-1.45zM390.98 128.91h1.45v31.79h-1.45zM395.42 29.98h1.45v130.72h-1.45zM399.87 72.64h1.45v88.06h-1.45zM404.31 107.31h1.45v53.39h-1.45zM408.75 119.28h1.45v41.42h-1.45zM413.19 121.35h1.45v39.35h-1.45zM417.63 123.27h1.45v37.43h-1.45zM422.08 126.58h1.45v34.12h-1.45zM426.52 126.16h1.45v34.54h-1.45zM430.96 126.16h1.45v34.54h-1.45zM435.40 126.16h1.45v34.54h-1.45zM439.84 125.61h1.45v35.09h-1.45zM444.29 124.10h1.45v36.60h-1.45zM448.73 123.41h1.45v37.29h-1.45zM453.17 123.14h1.45v37.56h-1.45zM457.61 123.82h1.45v36.88h-1.45zM462.05 123.82h1.45v36.88h-1.45zM466.50 122.58h1.45v38.12h-1.45zM470.94 120.52h1.45v40.18h-1.45zM475.38 120.52h1.45v40.18h-1.45zM479.82 121.48h1.45v39.22h-1.45zM484.26 120.11h1.45v40.59h-1.45zM488.71 121.07h1.45v39.63h-1.45zM493.15 121.21h1.45v39.49h-1.45zM497.59 122.03h1.45v38.67h-1.45zM502.03 122.03h1.45v38.67h-1.45zM506.47 120.52h1.45v40.18h-1.45z" fill="#97b176"/>
<text x="291.90" y="30.80" font-size="10" font-weight="bold" fill="#111">E</text>
<text x="476.50" y="40.90" font-size="10.6" fill="#1c1c1c" stroke="#1c1c1c" stroke-width="0.25" textLength="6.20" lengthAdjust="spacingAndGlyphs">Y</text>
<line x1="280.60" y1="177.10" x2="280.60" y2="315.30" stroke="#c2c2c2" stroke-width="0.9"/>
<line x1="280.60" y1="315.30" x2="509.44" y2="315.30" stroke="#d0d0d0" stroke-width="0.9"/>
<line x1="278.00" y1="315.30" x2="280.60" y2="315.30" stroke="#b4b4b4" stroke-width="0.9"/>
<text x="274.50" y="317.90" font-size="7.3" fill="#3c3c3c" stroke="#3c3c3c" stroke-width="0.15" text-anchor="end">0</text>
<line x1="278.00" y1="287.66" x2="280.60" y2="287.66" stroke="#b4b4b4" stroke-width="0.9"/>
<text x="274.50" y="290.26" font-size="7.3" fill="#3c3c3c" stroke="#3c3c3c" stroke-width="0.15" text-anchor="end">0.5</text>
<line x1="278.00" y1="260.02" x2="280.60" y2="260.02" stroke="#b4b4b4" stroke-width="0.9"/>
<text x="274.50" y="262.62" font-size="7.3" fill="#3c3c3c" stroke="#3c3c3c" stroke-width="0.15" text-anchor="end">1</text>
<line x1="278.00" y1="232.38" x2="280.60" y2="232.38" stroke="#b4b4b4" stroke-width="0.9"/>
<text x="274.50" y="234.98" font-size="7.3" fill="#3c3c3c" stroke="#3c3c3c" stroke-width="0.15" text-anchor="end">1.5</text>
<line x1="278.00" y1="204.74" x2="280.60" y2="204.74" stroke="#b4b4b4" stroke-width="0.9"/>
<text x="274.50" y="207.34" font-size="7.3" fill="#3c3c3c" stroke="#3c3c3c" stroke-width="0.15" text-anchor="end">2</text>
<line x1="278.00" y1="177.10" x2="280.60" y2="177.10" stroke="#b4b4b4" stroke-width="0.9"/>
<text x="274.50" y="179.70" font-size="7.3" fill="#3c3c3c" stroke="#3c3c3c" stroke-width="0.15" text-anchor="end">2.5</text>
<path d="M281.75 255.85h3.30v59.45h-3.30zM286.23 251.43h3.30v63.87h-3.30zM290.70 254.19h3.30v61.11h-3.30zM295.18 255.30h3.30v60.00h-3.30zM299.65 259.17h3.30v56.13h-3.30zM304.13 252.53h3.30v62.77h-3.30zM308.61 252.81h3.30v62.49h-3.30zM313.08 255.30h3.30v60.00h-3.30zM317.56 254.74h3.30v60.56h-3.30zM322.03 256.96h3.30v58.34h-3.30zM326.51 256.40h3.30v58.90h-3.30zM330.99 260.27h3.30v55.03h-3.30zM335.46 257.51h3.30v57.79h-3.30zM339.94 251.70h3.30v63.60h-3.30zM344.41 260.27h3.30v55.03h-3.30zM348.89 260.27h3.30v55.03h-3.30zM353.37 261.65h3.30v53.65h-3.30zM357.84 258.06h3.30v57.24h-3.30zM362.32 263.04h3.30v52.26h-3.30zM366.79 253.64h3.30v61.66h-3.30zM371.27 261.93h3.30v53.37h-3.30zM375.75 258.61h3.30v56.69h-3.30zM380.22 248.66h3.30v66.64h-3.30zM384.70 255.30h3.30v60.00h-3.30zM389.17 242.03h3.30v73.27h-3.30zM393.65 184.54h3.30v130.76h-3.30zM398.13 269.67h3.30v45.63h-3.30zM402.60 260.83h3.30v54.47h-3.30zM407.08 237.61h3.30v77.69h-3.30zM411.55 243.69h3.30v71.61h-3.30zM416.03 253.64h3.30v61.66h-3.30zM420.51 261.65h3.30v53.65h-3.30zM424.98 265.80h3.30v49.50h-3.30zM429.46 261.93h3.30v53.37h-3.30zM433.93 258.06h3.30v57.24h-3.30zM438.41 258.61h3.30v56.69h-3.30zM442.89 264.70h3.30v50.60h-3.30zM447.36 259.17h3.30v56.13h-3.30zM451.84 258.06h3.30v57.24h-3.30zM456.31 262.48h3.30v52.82h-3.30zM460.79 256.40h3.30v58.90h-3.30zM465.27 256.96h3.30v58.34h-3.30zM469.74 258.61h3.30v56.69h-3.30zM474.22 260.27h3.30v55.03h-3.30zM478.69 260.27h3.30v55.03h-3.30zM483.17 260.27h3.30v55.03h-3.30zM487.65 253.64h3.30v61.66h-3.30zM492.12 260.83h3.30v54.47h-3.30zM496.60 258.06h3.30v57.24h-3.30zM501.07 261.38h3.30v53.92h-3.30zM505.55 254.74h3.30v60.56h-3.30z" fill="#eef7d6"/>
<path d="M282.67 256.15h1.45v59.15h-1.45zM287.15 251.73h1.45v63.57h-1.45zM291.63 254.49h1.45v60.81h-1.45zM296.10 255.60h1.45v59.70h-1.45zM300.58 259.47h1.45v55.83h-1.45zM305.05 252.83h1.45v62.47h-1.45zM309.53 253.11h1.45v62.19h-1.45zM314.01 255.60h1.45v59.70h-1.45zM318.48 255.04h1.45v60.26h-1.45zM322.96 257.26h1.45v58.04h-1.45zM327.43 256.70h1.45v58.60h-1.45zM331.91 260.57h1.45v54.73h-1.45zM336.39 257.81h1.45v57.49h-1.45zM340.86 252.00h1.45v63.30h-1.45zM345.34 260.57h1.45v54.73h-1.45zM349.81 260.57h1.45v54.73h-1.45zM354.29 261.95h1.45v53.35h-1.45zM358.77 258.36h1.45v56.94h-1.45zM363.24 263.34h1.45v51.96h-1.45zM367.72 253.94h1.45v61.36h-1.45zM372.19 262.23h1.45v53.07h-1.45zM376.67 258.91h1.45v56.39h-1.45zM381.15 248.96h1.45v66.34h-1.45zM385.62 255.60h1.45v59.70h-1.45zM390.10 242.33h1.45v72.97h-1.45zM394.57 184.84h1.45v130.46h-1.45zM399.05 269.97h1.45v45.33h-1.45zM403.53 261.13h1.45v54.17h-1.45zM408.00 237.91h1.45v77.39h-1.45zM412.48 243.99h1.45v71.31h-1.45zM416.95 253.94h1.45v61.36h-1.45zM421.43 261.95h1.45v53.35h-1.45zM425.91 266.10h1.45v49.20h-1.45zM430.38 262.23h1.45v53.07h-1.45zM434.86 258.36h1.45v56.94h-1.45zM439.33 258.91h1.45v56.39h-1.45zM443.81 265.00h1.45v50.30h-1.45zM448.29 259.47h1.45v55.83h-1.45zM452.76 258.36h1.45v56.94h-1.45zM457.24 262.78h1.45v52.52h-1.45zM461.71 256.70h1.45v58.60h-1.45zM466.19 257.26h1.45v58.04h-1.45zM470.67 258.91h1.45v56.39h-1.45zM475.14 260.57h1.45v54.73h-1.45zM479.62 260.57h1.45v54.73h-1.45zM484.09 260.57h1.45v54.73h-1.45zM488.57 253.94h1.45v61.36h-1.45zM493.05 261.13h1.45v54.17h-1.45zM497.52 258.36h1.45v56.94h-1.45zM502.00 261.68h1.45v53.62h-1.45zM506.47 255.04h1.45v60.26h-1.45z" fill="#97b176"/>
<text x="291.90" y="187.20" font-size="10" font-weight="bold" fill="#111">F</text>
<text x="484.20" y="197.10" font-size="10.6" fill="#1c1c1c" stroke="#1c1c1c" stroke-width="0.25" textLength="13.60" lengthAdjust="spacingAndGlyphs">CA</text>
<line x1="280.20" y1="333.50" x2="280.20" y2="471.30" stroke="#c2c2c2" stroke-width="0.9"/>
<line x1="280.20" y1="471.30" x2="509.43" y2="471.30" stroke="#d0d0d0" stroke-width="0.9"/>
<line x1="277.60" y1="471.30" x2="280.20" y2="471.30" stroke="#b4b4b4" stroke-width="0.9"/>
<text x="274.50" y="473.90" font-size="7.3" fill="#3c3c3c" stroke="#3c3c3c" stroke-width="0.15" text-anchor="end">0</text>
<line x1="277.60" y1="455.99" x2="280.20" y2="455.99" stroke="#b4b4b4" stroke-width="0.9"/>
<text x="274.50" y="458.59" font-size="7.3" fill="#3c3c3c" stroke="#3c3c3c" stroke-width="0.15" text-anchor="end">0.5</text>
<line x1="277.60" y1="440.68" x2="280.20" y2="440.68" stroke="#b4b4b4" stroke-width="0.9"/>
<text x="274.50" y="443.28" font-size="7.3" fill="#3c3c3c" stroke="#3c3c3c" stroke-width="0.15" text-anchor="end">1</text>
<line x1="277.60" y1="425.37" x2="280.20" y2="425.37" stroke="#b4b4b4" stroke-width="0.9"/>
<text x="274.50" y="427.97" font-size="7.3" fill="#3c3c3c" stroke="#3c3c3c" stroke-width="0.15" text-anchor="end">1.5</text>
<line x1="277.60" y1="410.06" x2="280.20" y2="410.06" stroke="#b4b4b4" stroke-width="0.9"/>
<text x="274.50" y="412.66" font-size="7.3" fill="#3c3c3c" stroke="#3c3c3c" stroke-width="0.15" text-anchor="end">2</text>
<line x1="277.60" y1="394.74" x2="280.20" y2="394.74" stroke="#b4b4b4" stroke-width="0.9"/>
<text x="274.50" y="397.34" font-size="7.3" fill="#3c3c3c" stroke="#3c3c3c" stroke-width="0.15" text-anchor="end">2.5</text>
<line x1="277.60" y1="379.43" x2="280.20" y2="379.43" stroke="#b4b4b4" stroke-width="0.9"/>
<text x="274.50" y="382.03" font-size="7.3" fill="#3c3c3c" stroke="#3c3c3c" stroke-width="0.15" text-anchor="end">3</text>
<line x1="277.60" y1="364.12" x2="280.20" y2="364.12" stroke="#b4b4b4" stroke-width="0.9"/>
<text x="274.50" y="366.72" font-size="7.3" fill="#3c3c3c" stroke="#3c3c3c" stroke-width="0.15" text-anchor="end">3.5</text>
<line x1="277.60" y1="348.81" x2="280.20" y2="348.81" stroke="#b4b4b4" stroke-width="0.9"/>
<text x="274.50" y="351.41" font-size="7.3" fill="#3c3c3c" stroke="#3c3c3c" stroke-width="0.15" text-anchor="end">4</text>
<line x1="277.60" y1="333.50" x2="280.20" y2="333.50" stroke="#b4b4b4" stroke-width="0.9"/>
<text x="274.50" y="336.10" font-size="7.3" fill="#3c3c3c" stroke="#3c3c3c" stroke-width="0.15" text-anchor="end">4.5</text>
<path d="M282.15 404.86h3.30v66.44h-3.30zM286.62 410.67h3.30v60.63h-3.30zM291.09 409.14h3.30v62.16h-3.30zM295.55 411.59h3.30v59.71h-3.30zM300.02 410.06h3.30v61.24h-3.30zM304.49 409.76h3.30v61.54h-3.30zM308.96 404.24h3.30v67.06h-3.30zM313.43 406.69h3.30v64.61h-3.30zM317.89 411.59h3.30v59.71h-3.30zM322.36 410.37h3.30v60.93h-3.30zM326.83 411.59h3.30v59.71h-3.30zM331.30 411.59h3.30v59.71h-3.30zM335.77 411.59h3.30v59.71h-3.30zM340.23 407.92h3.30v63.38h-3.30zM344.70 408.53h3.30v62.77h-3.30zM349.17 409.14h3.30v62.16h-3.30zM353.64 411.59h3.30v59.71h-3.30zM358.11 407.31h3.30v63.99h-3.30zM362.57 414.96h3.30v56.34h-3.30zM367.04 414.04h3.30v57.26h-3.30zM371.51 414.04h3.30v57.26h-3.30zM375.98 413.74h3.30v57.56h-3.30zM380.45 420.17h3.30v51.13h-3.30zM384.91 425.99h3.30v45.31h-3.30zM389.38 424.76h3.30v46.54h-3.30zM393.85 351.88h3.30v119.42h-3.30zM398.32 366.27h3.30v105.03h-3.30zM402.79 390.46h3.30v80.84h-3.30zM407.25 399.04h3.30v72.26h-3.30zM411.72 406.69h3.30v64.61h-3.30zM416.19 402.10h3.30v69.20h-3.30zM420.66 407.31h3.30v63.99h-3.30zM425.13 400.88h3.30v70.42h-3.30zM429.59 404.55h3.30v66.75h-3.30zM434.06 402.10h3.30v69.20h-3.30zM438.53 407.92h3.30v63.38h-3.30zM443.00 407.61h3.30v63.69h-3.30zM447.47 405.47h3.30v65.83h-3.30zM451.93 403.02h3.30v68.28h-3.30zM456.40 403.94h3.30v67.36h-3.30zM460.87 403.94h3.30v67.36h-3.30zM465.34 407.00h3.30v64.30h-3.30zM469.81 408.22h3.30v63.08h-3.30zM474.27 405.47h3.30v65.83h-3.30zM478.74 401.79h3.30v69.51h-3.30zM483.21 402.71h3.30v68.59h-3.30zM487.68 404.86h3.30v66.44h-3.30zM492.15 404.55h3.30v66.75h-3.30zM496.61 406.08h3.30v65.22h-3.30zM501.08 411.90h3.30v59.40h-3.30zM505.55 404.55h3.30v66.75h-3.30z" fill="#eef7d6"/>
<path d="M283.07 405.16h1.45v66.14h-1.45zM287.54 410.97h1.45v60.33h-1.45zM292.01 409.44h1.45v61.86h-1.45zM296.48 411.89h1.45v59.41h-1.45zM300.95 410.36h1.45v60.94h-1.45zM305.41 410.06h1.45v61.24h-1.45zM309.88 404.54h1.45v66.76h-1.45zM314.35 406.99h1.45v64.31h-1.45zM318.82 411.89h1.45v59.41h-1.45zM323.29 410.67h1.45v60.63h-1.45zM327.75 411.89h1.45v59.41h-1.45zM332.22 411.89h1.45v59.41h-1.45zM336.69 411.89h1.45v59.41h-1.45zM341.16 408.22h1.45v63.08h-1.45zM345.63 408.83h1.45v62.47h-1.45zM350.09 409.44h1.45v61.86h-1.45zM354.56 411.89h1.45v59.41h-1.45zM359.03 407.61h1.45v63.69h-1.45zM363.50 415.26h1.45v56.04h-1.45zM367.97 414.34h1.45v56.96h-1.45zM372.44 414.34h1.45v56.96h-1.45zM376.90 414.04h1.45v57.26h-1.45zM381.37 420.47h1.45v50.83h-1.45zM385.84 426.29h1.45v45.01h-1.45zM390.31 425.06h1.45v46.24h-1.45zM394.77 352.18h1.45v119.12h-1.45zM399.24 366.57h1.45v104.73h-1.45zM403.71 390.76h1.45v80.54h-1.45zM408.18 399.34h1.45v71.96h-1.45zM412.65 406.99h1.45v64.31h-1.45zM417.12 402.40h1.45v68.90h-1.45zM421.58 407.61h1.45v63.69h-1.45zM426.05 401.18h1.45v70.12h-1.45zM430.52 404.85h1.45v66.45h-1.45zM434.99 402.40h1.45v68.90h-1.45zM439.45 408.22h1.45v63.08h-1.45zM443.92 407.91h1.45v63.39h-1.45zM448.39 405.77h1.45v65.53h-1.45zM452.86 403.32h1.45v67.98h-1.45zM457.33 404.24h1.45v67.06h-1.45zM461.79 404.24h1.45v67.06h-1.45zM466.26 407.30h1.45v64.00h-1.45zM470.73 408.52h1.45v62.78h-1.45zM475.20 405.77h1.45v65.53h-1.45zM479.67 402.09h1.45v69.21h-1.45zM484.13 403.01h1.45v68.29h-1.45zM488.60 405.16h1.45v66.14h-1.45zM493.07 404.85h1.45v66.45h-1.45zM497.54 406.38h1.45v64.92h-1.45zM502.01 412.20h1.45v59.10h-1.45zM506.48 404.85h1.45v66.45h-1.45z" fill="#97b176"/>
<text x="291.30" y="343.20" font-size="10" font-weight="bold" fill="#111">G</text>
<text x="481.30" y="349.10" font-size="10.6" fill="#1c1c1c" stroke="#1c1c1c" stroke-width="0.25" textLength="13.30" lengthAdjust="spacingAndGlyphs">Inr</text>
<line x1="279.20" y1="487.50" x2="279.20" y2="625.70" stroke="#c2c2c2" stroke-width="0.9"/>
<line x1="279.20" y1="625.70" x2="509.46" y2="625.70" stroke="#d0d0d0" stroke-width="0.9"/>
<line x1="276.60" y1="625.70" x2="279.20" y2="625.70" stroke="#b4b4b4" stroke-width="0.9"/>
<text x="273.10" y="628.30" font-size="7.3" fill="#3c3c3c" stroke="#3c3c3c" stroke-width="0.15" text-anchor="end">0</text>
<line x1="276.60" y1="611.88" x2="279.20" y2="611.88" stroke="#b4b4b4" stroke-width="0.9"/>
<text x="273.10" y="614.48" font-size="7.3" fill="#3c3c3c" stroke="#3c3c3c" stroke-width="0.15" text-anchor="end">5</text>
<line x1="276.60" y1="598.06" x2="279.20" y2="598.06" stroke="#b4b4b4" stroke-width="0.9"/>
<text x="273.10" y="600.66" font-size="7.3" fill="#3c3c3c" stroke="#3c3c3c" stroke-width="0.15" text-anchor="end">10</text>
<line x1="276.60" y1="584.24" x2="279.20" y2="584.24" stroke="#b4b4b4" stroke-width="0.9"/>
<text x="273.10" y="586.84" font-size="7.3" fill="#3c3c3c" stroke="#3c3c3c" stroke-width="0.15" text-anchor="end">15</text>
<line x1="276.60" y1="570.42" x2="279.20" y2="570.42" stroke="#b4b4b4" stroke-width="0.9"/>
<text x="273.10" y="573.02" font-size="7.3" fill="#3c3c3c" stroke="#3c3c3c" stroke-width="0.15" text-anchor="end">20</text>
<line x1="276.60" y1="556.60" x2="279.20" y2="556.60" stroke="#b4b4b4" stroke-width="0.9"/>
<text x="273.10" y="559.20" font-size="7.3" fill="#3c3c3c" stroke="#3c3c3c" stroke-width="0.15" text-anchor="end">25</text>
<line x1="276.60" y1="542.78" x2="279.20" y2="542.78" stroke="#b4b4b4" stroke-width="0.9"/>
<text x="273.10" y="545.38" font-size="7.3" fill="#3c3c3c" stroke="#3c3c3c" stroke-width="0.15" text-anchor="end">30</text>
<line x1="276.60" y1="528.96" x2="279.20" y2="528.96" stroke="#b4b4b4" stroke-width="0.9"/>
<text x="273.10" y="531.56" font-size="7.3" fill="#3c3c3c" stroke="#3c3c3c" stroke-width="0.15" text-anchor="end">35</text>
<line x1="276.60" y1="515.14" x2="279.20" y2="515.14" stroke="#b4b4b4" stroke-width="0.9"/>
<text x="273.10" y="517.74" font-size="7.3" fill="#3c3c3c" stroke="#3c3c3c" stroke-width="0.15" text-anchor="end">40</text>
<line x1="276.60" y1="501.32" x2="279.20" y2="501.32" stroke="#b4b4b4" stroke-width="0.9"/>
<text x="273.10" y="503.92" font-size="7.3" fill="#3c3c3c" stroke="#3c3c3c" stroke-width="0.15" text-anchor="end">45</text>
<line x1="276.60" y1="487.50" x2="279.20" y2="487.50" stroke="#b4b4b4" stroke-width="0.9"/>
<text x="273.10" y="490.10" font-size="7.3" fill="#3c3c3c" stroke="#3c3c3c" stroke-width="0.15" text-anchor="end">50</text>
<path d="M279.85 597.48h3.30v28.22h-3.30zM284.36 600.52h3.30v25.18h-3.30zM288.88 599.42h3.30v26.28h-3.30zM293.39 599.69h3.30v26.01h-3.30zM297.91 599.69h3.30v26.01h-3.30zM302.42 601.08h3.30v24.62h-3.30zM306.93 600.52h3.30v25.18h-3.30zM311.45 597.76h3.30v27.94h-3.30zM315.96 598.59h3.30v27.11h-3.30zM320.48 599.97h3.30v25.73h-3.30zM324.99 598.87h3.30v26.83h-3.30zM329.50 600.80h3.30v24.90h-3.30zM334.02 600.80h3.30v24.90h-3.30zM338.53 598.87h3.30v26.83h-3.30zM343.05 599.97h3.30v25.73h-3.30zM347.56 602.46h3.30v23.24h-3.30zM352.07 602.46h3.30v23.24h-3.30zM356.59 602.74h3.30v22.96h-3.30zM361.10 603.29h3.30v22.41h-3.30zM365.62 604.39h3.30v21.31h-3.30zM370.13 603.84h3.30v21.86h-3.30zM374.64 602.74h3.30v22.96h-3.30zM379.16 604.39h3.30v21.31h-3.30zM383.67 602.74h3.30v22.96h-3.30zM388.19 597.48h3.30v28.22h-3.30zM392.70 500.19h3.30v125.51h-3.30zM397.21 568.46h3.30v57.24h-3.30zM401.73 592.51h3.30v33.19h-3.30zM406.24 602.18h3.30v23.52h-3.30zM410.76 603.84h3.30v21.86h-3.30zM415.27 604.67h3.30v21.03h-3.30zM419.78 606.33h3.30v19.37h-3.30zM424.30 605.22h3.30v20.48h-3.30zM428.81 604.67h3.30v21.03h-3.30zM433.33 603.29h3.30v22.41h-3.30zM437.84 604.67h3.30v21.03h-3.30zM442.35 601.35h3.30v24.35h-3.30zM446.87 601.35h3.30v24.35h-3.30zM451.38 600.80h3.30v24.90h-3.30zM455.90 600.52h3.30v25.18h-3.30zM460.41 600.52h3.30v25.18h-3.30zM464.92 599.97h3.30v25.73h-3.30zM469.44 599.14h3.30v26.56h-3.30zM473.95 599.97h3.30v25.73h-3.30zM478.47 599.69h3.30v26.01h-3.30zM482.98 597.76h3.30v27.94h-3.30zM487.49 599.42h3.30v26.28h-3.30zM492.01 599.42h3.30v26.28h-3.30zM496.52 598.87h3.30v26.83h-3.30zM501.04 598.87h3.30v26.83h-3.30zM505.55 597.21h3.30v28.49h-3.30z" fill="#eef7d6"/>
<path d="M280.77 597.78h1.45v27.92h-1.45zM285.29 600.82h1.45v24.88h-1.45zM289.80 599.72h1.45v25.98h-1.45zM294.32 599.99h1.45v25.71h-1.45zM298.83 599.99h1.45v25.71h-1.45zM303.34 601.38h1.45v24.32h-1.45zM307.86 600.82h1.45v24.88h-1.45zM312.37 598.06h1.45v27.64h-1.45zM316.89 598.89h1.45v26.81h-1.45zM321.40 600.27h1.45v25.43h-1.45zM325.91 599.17h1.45v26.53h-1.45zM330.43 601.10h1.45v24.60h-1.45zM334.94 601.10h1.45v24.60h-1.45zM339.46 599.17h1.45v26.53h-1.45zM343.97 600.27h1.45v25.43h-1.45zM348.48 602.76h1.45v22.94h-1.45zM353.00 602.76h1.45v22.94h-1.45zM357.51 603.04h1.45v22.66h-1.45zM362.03 603.59h1.45v22.11h-1.45zM366.54 604.69h1.45v21.01h-1.45zM371.05 604.14h1.45v21.56h-1.45zM375.57 603.04h1.45v22.66h-1.45zM380.08 604.69h1.45v21.01h-1.45zM384.60 603.04h1.45v22.66h-1.45zM389.11 597.78h1.45v27.92h-1.45zM393.62 500.49h1.45v125.21h-1.45zM398.14 568.76h1.45v56.94h-1.45zM402.65 592.81h1.45v32.89h-1.45zM407.17 602.48h1.45v23.22h-1.45zM411.68 604.14h1.45v21.56h-1.45zM416.19 604.97h1.45v20.73h-1.45zM420.71 606.63h1.45v19.07h-1.45zM425.22 605.52h1.45v20.18h-1.45zM429.74 604.97h1.45v20.73h-1.45zM434.25 603.59h1.45v22.11h-1.45zM438.76 604.97h1.45v20.73h-1.45zM443.28 601.65h1.45v24.05h-1.45zM447.79 601.65h1.45v24.05h-1.45zM452.31 601.10h1.45v24.60h-1.45zM456.82 600.82h1.45v24.88h-1.45zM461.33 600.82h1.45v24.88h-1.45zM465.85 600.27h1.45v25.43h-1.45zM470.36 599.44h1.45v26.26h-1.45zM474.88 600.27h1.45v25.43h-1.45zM479.39 599.99h1.45v25.71h-1.45zM483.90 598.06h1.45v27.64h-1.45zM488.42 599.72h1.45v25.98h-1.45zM492.93 599.72h1.45v25.98h-1.45zM497.45 599.17h1.45v26.53h-1.45zM501.96 599.17h1.45v26.53h-1.45zM506.47 597.51h1.45v28.19h-1.45z" fill="#97b176"/>
<text x="291.30" y="505.90" font-size="10" font-weight="bold" fill="#111">H</text>
<text x="480.20" y="501.50" font-size="10.6" fill="#1c1c1c" stroke="#1c1c1c" stroke-width="0.25" textLength="14.60" lengthAdjust="spacingAndGlyphs">GA</text>
<line x1="279.20" y1="644.50" x2="279.20" y2="782.00" stroke="#c2c2c2" stroke-width="0.9"/>
<line x1="279.20" y1="782.00" x2="509.45" y2="782.00" stroke="#d0d0d0" stroke-width="0.9"/>
<line x1="276.60" y1="782.00" x2="279.20" y2="782.00" stroke="#b4b4b4" stroke-width="0.9"/>
<text x="273.10" y="784.60" font-size="7.3" fill="#3c3c3c" stroke="#3c3c3c" stroke-width="0.15" text-anchor="end">0</text>
<line x1="276.60" y1="764.81" x2="279.20" y2="764.81" stroke="#b4b4b4" stroke-width="0.9"/>
<text x="273.10" y="767.41" font-size="7.3" fill="#3c3c3c" stroke="#3c3c3c" stroke-width="0.15" text-anchor="end">10</text>
<line x1="276.60" y1="747.62" x2="279.20" y2="747.62" stroke="#b4b4b4" stroke-width="0.9"/>
<text x="273.10" y="750.23" font-size="7.3" fill="#3c3c3c" stroke="#3c3c3c" stroke-width="0.15" text-anchor="end">20</text>
<line x1="276.60" y1="730.44" x2="279.20" y2="730.44" stroke="#b4b4b4" stroke-width="0.9"/>
<text x="273.10" y="733.04" font-size="7.3" fill="#3c3c3c" stroke="#3c3c3c" stroke-width="0.15" text-anchor="end">30</text>
<line x1="276.60" y1="713.25" x2="279.20" y2="713.25" stroke="#b4b4b4" stroke-width="0.9"/>
<text x="273.10" y="715.85" font-size="7.3" fill="#3c3c3c" stroke="#3c3c3c" stroke-width="0.15" text-anchor="end">40</text>
<line x1="276.60" y1="696.06" x2="279.20" y2="696.06" stroke="#b4b4b4" stroke-width="0.9"/>
<text x="273.10" y="698.66" font-size="7.3" fill="#3c3c3c" stroke="#3c3c3c" stroke-width="0.15" text-anchor="end">50</text>
<line x1="276.60" y1="678.88" x2="279.20" y2="678.88" stroke="#b4b4b4" stroke-width="0.9"/>
<text x="273.10" y="681.48" font-size="7.3" fill="#3c3c3c" stroke="#3c3c3c" stroke-width="0.15" text-anchor="end">60</text>
<line x1="276.60" y1="661.69" x2="279.20" y2="661.69" stroke="#b4b4b4" stroke-width="0.9"/>
<text x="273.10" y="664.29" font-size="7.3" fill="#3c3c3c" stroke="#3c3c3c" stroke-width="0.15" text-anchor="end">70</text>
<line x1="276.60" y1="644.50" x2="279.20" y2="644.50" stroke="#b4b4b4" stroke-width="0.9"/>
<text x="273.10" y="647.10" font-size="7.3" fill="#3c3c3c" stroke="#3c3c3c" stroke-width="0.15" text-anchor="end">80</text>
<path d="M280.15 734.61h3.30v47.39h-3.30zM284.66 733.92h3.30v48.08h-3.30zM289.17 732.72h3.30v49.28h-3.30zM293.67 733.92h3.30v48.08h-3.30zM298.18 733.92h3.30v48.08h-3.30zM302.69 733.23h3.30v48.77h-3.30zM307.20 734.26h3.30v47.74h-3.30zM311.71 734.26h3.30v47.74h-3.30zM316.21 734.78h3.30v47.22h-3.30zM320.72 734.78h3.30v47.22h-3.30zM325.23 733.58h3.30v48.42h-3.30zM329.74 733.23h3.30v48.77h-3.30zM334.25 733.23h3.30v48.77h-3.30zM338.75 734.78h3.30v47.22h-3.30zM343.26 731.68h3.30v50.32h-3.30zM347.77 733.23h3.30v48.77h-3.30zM352.28 733.58h3.30v48.42h-3.30zM356.79 735.12h3.30v46.88h-3.30zM361.29 735.12h3.30v46.88h-3.30zM365.80 734.78h3.30v47.22h-3.30zM370.31 733.75h3.30v48.25h-3.30zM374.82 731.86h3.30v50.14h-3.30zM379.33 731.51h3.30v50.49h-3.30zM383.83 725.50h3.30v56.50h-3.30zM388.34 654.34h3.30v127.66h-3.30zM392.85 673.25h3.30v108.75h-3.30zM397.36 731.86h3.30v50.14h-3.30zM401.87 731.86h3.30v50.14h-3.30zM406.37 735.64h3.30v46.36h-3.30zM410.88 738.90h3.30v43.10h-3.30zM415.39 739.08h3.30v42.92h-3.30zM419.90 738.90h3.30v43.10h-3.30zM424.41 739.08h3.30v42.92h-3.30zM428.91 738.56h3.30v43.44h-3.30zM433.42 737.53h3.30v44.47h-3.30zM437.93 736.67h3.30v45.33h-3.30zM442.44 734.78h3.30v47.22h-3.30zM446.95 734.61h3.30v47.39h-3.30zM451.45 737.36h3.30v44.64h-3.30zM455.96 734.26h3.30v47.74h-3.30zM460.47 735.12h3.30v46.88h-3.30zM464.98 736.67h3.30v45.33h-3.30zM469.49 733.92h3.30v48.08h-3.30zM473.99 734.26h3.30v47.74h-3.30zM478.50 735.47h3.30v46.53h-3.30zM483.01 734.61h3.30v47.39h-3.30zM487.52 733.06h3.30v48.94h-3.30zM492.03 733.06h3.30v48.94h-3.30zM496.53 736.33h3.30v45.67h-3.30zM501.04 735.81h3.30v46.19h-3.30zM505.55 734.61h3.30v47.39h-3.30z" fill="#eef7d6"/>
<path d="M281.07 734.91h1.45v47.09h-1.45zM285.58 734.22h1.45v47.78h-1.45zM290.09 733.02h1.45v48.98h-1.45zM294.60 734.22h1.45v47.78h-1.45zM299.11 734.22h1.45v47.78h-1.45zM303.62 733.53h1.45v48.47h-1.45zM308.12 734.56h1.45v47.44h-1.45zM312.63 734.56h1.45v47.44h-1.45zM317.14 735.08h1.45v46.92h-1.45zM321.65 735.08h1.45v46.92h-1.45zM326.15 733.88h1.45v48.12h-1.45zM330.66 733.53h1.45v48.47h-1.45zM335.17 733.53h1.45v48.47h-1.45zM339.68 735.08h1.45v46.92h-1.45zM344.19 731.98h1.45v50.02h-1.45zM348.69 733.53h1.45v48.47h-1.45zM353.20 733.88h1.45v48.12h-1.45zM357.71 735.42h1.45v46.58h-1.45zM362.22 735.42h1.45v46.58h-1.45zM366.73 735.08h1.45v46.92h-1.45zM371.23 734.05h1.45v47.95h-1.45zM375.74 732.16h1.45v49.84h-1.45zM380.25 731.81h1.45v50.19h-1.45zM384.76 725.80h1.45v56.20h-1.45zM389.27 654.64h1.45v127.36h-1.45zM393.77 673.55h1.45v108.45h-1.45zM398.28 732.16h1.45v49.84h-1.45zM402.79 732.16h1.45v49.84h-1.45zM407.30 735.94h1.45v46.06h-1.45zM411.81 739.20h1.45v42.80h-1.45zM416.31 739.38h1.45v42.62h-1.45zM420.82 739.20h1.45v42.80h-1.45zM425.33 739.38h1.45v42.62h-1.45zM429.84 738.86h1.45v43.14h-1.45zM434.35 737.83h1.45v44.17h-1.45zM438.85 736.97h1.45v45.03h-1.45zM443.36 735.08h1.45v46.92h-1.45zM447.87 734.91h1.45v47.09h-1.45zM452.38 737.66h1.45v44.34h-1.45zM456.89 734.56h1.45v47.44h-1.45zM461.39 735.42h1.45v46.58h-1.45zM465.90 736.97h1.45v45.03h-1.45zM470.41 734.22h1.45v47.78h-1.45zM474.92 734.56h1.45v47.44h-1.45zM479.43 735.77h1.45v46.23h-1.45zM483.93 734.91h1.45v47.09h-1.45zM488.44 733.36h1.45v48.64h-1.45zM492.95 733.36h1.45v48.64h-1.45zM497.46 736.62h1.45v45.38h-1.45zM501.97 736.11h1.45v45.89h-1.45zM506.47 734.91h1.45v47.09h-1.45z" fill="#97b176"/>
<text x="291.90" y="652.60" font-size="10" font-weight="bold" fill="#111">I</text>
<text x="481.10" y="660.50" font-size="10.6" fill="#1c1c1c" stroke="#1c1c1c" stroke-width="0.25" textLength="20.40" lengthAdjust="spacingAndGlyphs">REG</text>
<line x1="101.90" y1="16.50" x2="110.00" y2="637.50" stroke="#555" stroke-width="1.2" stroke-dasharray="2 1.736" stroke-dashoffset="0.3"/>
<line x1="170.60" y1="16.50" x2="178.80" y2="636.00" stroke="#555" stroke-width="1.2" stroke-dasharray="2 1.736" stroke-dashoffset="0.3"/>
<line x1="360.50" y1="16.50" x2="372.50" y2="788.00" stroke="#555" stroke-width="1.2" stroke-dasharray="2 1.736" stroke-dashoffset="0.3"/>
<line x1="424.80" y1="16.50" x2="436.70" y2="788.00" stroke="#555" stroke-width="1.2" stroke-dasharray="2 1.736" stroke-dashoffset="0.3"/>
<line x1="2.90" y1="13.80" x2="2.90" y2="324.40" stroke="#5e5e5e" stroke-width="1.60"/>
<line x1="2.10" y1="324.40" x2="2.10" y2="635.20" stroke="#5e5e5e" stroke-width="1.60"/>
<line x1="260.30" y1="13.80" x2="260.30" y2="635.00" stroke="#333333" stroke-width="1.80"/>
<line x1="260.30" y1="635.00" x2="260.30" y2="791.60" stroke="#5a5a5a" stroke-width="1.50"/>
<line x1="517.70" y1="13.80" x2="517.70" y2="791.60" stroke="#666666" stroke-width="1.50"/>
<line x1="2.10" y1="14.50" x2="518.40" y2="14.50" stroke="#505050" stroke-width="1.50"/>
<line x1="2.10" y1="168.95" x2="518.40" y2="168.95" stroke="#444444" stroke-width="2.00"/>
<line x1="1.30" y1="324.40" x2="518.40" y2="324.40" stroke="#474747" stroke-width="2.00"/>
<line x1="1.30" y1="479.50" x2="518.40" y2="479.50" stroke="#1e1e1e" stroke-width="1.30"/>
<line x1="1.30" y1="634.50" x2="260.50" y2="634.50" stroke="#464646" stroke-width="1.40"/>
<line x1="259.50" y1="635.00" x2="518.40" y2="635.00" stroke="#4c4c4c" stroke-width="2.00"/>
<line x1="259.50" y1="790.80" x2="518.40" y2="790.80" stroke="#6a6a6a" stroke-width="1.90"/>
<text x="82.90" y="10.2" font-size="10.6" fill="#1c1c1c" stroke="#1c1c1c" stroke-width="0.25" textLength="25.40" lengthAdjust="spacingAndGlyphs">-1.5K</text>
<text x="135.80" y="10.2" font-size="10.6" fill="#1c1c1c" stroke="#1c1c1c" stroke-width="0.25" textLength="5.70" lengthAdjust="spacingAndGlyphs">0</text>
<text x="158.80" y="10.2" font-size="10.6" fill="#1c1c1c" stroke="#1c1c1c" stroke-width="0.25" textLength="28.30" lengthAdjust="spacingAndGlyphs">+1.5K</text>
<text x="342.50" y="10.2" font-size="10.6" fill="#1c1c1c" stroke="#1c1c1c" stroke-width="0.25" textLength="25.80" lengthAdjust="spacingAndGlyphs">-1.5K</text>
<text x="394.80" y="10.2" font-size="10.6" fill="#1c1c1c" stroke="#1c1c1c" stroke-width="0.25" textLength="6.20" lengthAdjust="spacingAndGlyphs">0</text>
<text x="418.80" y="10.2" font-size="10.6" fill="#1c1c1c" stroke="#1c1c1c" stroke-width="0.25" textLength="28.30" lengthAdjust="spacingAndGlyphs">+1.5K</text>
</svg></body></html>
